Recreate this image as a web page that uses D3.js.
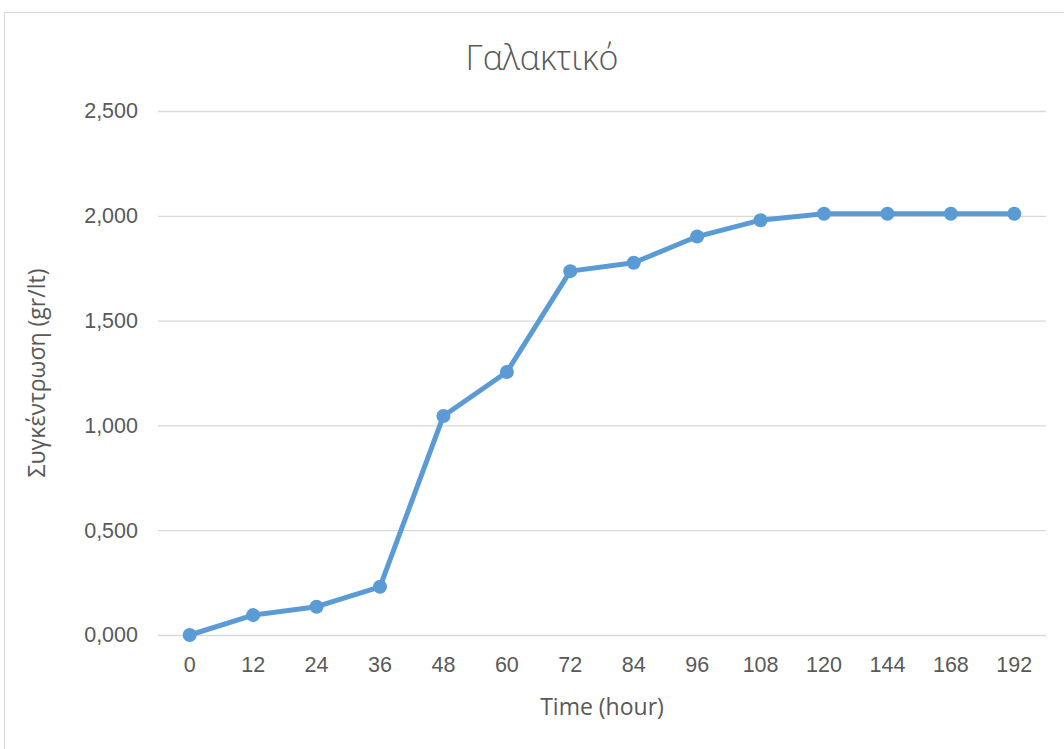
<!DOCTYPE html>
<html>
<head>
<meta charset="utf-8">
<script src="https://cdn.jsdelivr.net/npm/d3@7"></script>
<style>
  html, body { margin: 0; padding: 0; background: #fff; }
  svg { display: block; font-family: "Open Sans", "Noto Sans", "Liberation Sans", sans-serif; }
</style>
</head>
<body>
<svg id="chart" width="1064" height="749"></svg>
<script>
// Lactic acid concentration over time
const hours = ["0", "12", "24", "36", "48", "60", "72", "84", "96", "108", "120", "144", "168", "192"];
const concentration = [0, 0.095, 0.135, 0.23, 1.045, 1.255, 1.736, 1.776, 1.901, 1.979, 2.01, 2.01, 2.01, 2.01];
const yTicks = [0, 0.5, 1.0, 1.5, 2.0, 2.5];

const titleText = "Γαλακτικό";
const yTitle = "Συγκέντρωση (gr/lt)";
const xTitle = "Time (hour)";

const svg = d3.select("#chart");
const textColor = "#595959";
const gridColor = "#d9d9d9";
const lineColor = "#5b9bd5";

const margin = { left: 158, right: 1046, top: 111, bottom: 635 };

// Outer chart frame
svg.append("rect")
  .attr("x", 4.5).attr("y", 12.5)
  .attr("width", 1080).attr("height", 760)
  .attr("fill", "#fff").attr("stroke", gridColor).attr("stroke-width", 1);

const x = d3.scaleBand().domain(hours).range([margin.left, margin.right]);
const y = d3.scaleLinear().domain([0, 2.5]).range([margin.bottom, margin.top]);

const fmt = v => d3.format(".3f")(v).replace(".", ",");

// Horizontal gridlines with value labels
const yAxis = d3.axisLeft(y).tickValues(yTicks).tickFormat(fmt)
  .tickSize(-(margin.right - margin.left)).tickPadding(20);
const gy = svg.append("g").attr("transform", `translate(${margin.left},0)`).call(yAxis);
gy.select(".domain").remove();
gy.selectAll(".tick line").attr("stroke", gridColor).attr("stroke-width", 1.3);
gy.selectAll(".tick text").attr("fill", textColor).attr("font-size", 21.5);

// Category axis labels
const xAxis = d3.axisBottom(x).tickSize(0).tickPadding(22);
const gx = svg.append("g").attr("transform", `translate(0,${margin.bottom})`).call(xAxis);
gx.select(".domain").remove();
gx.selectAll(".tick text").attr("fill", textColor).attr("font-size", 21.5);

// Series line and markers
const pts = hours.map((h, i) => ({ h, v: concentration[i] }));
const cx = d => x(d.h) + x.bandwidth() / 2;

svg.append("path")
  .datum(pts)
  .attr("fill", "none")
  .attr("stroke", lineColor)
  .attr("stroke-width", 5)
  .attr("stroke-linejoin", "round")
  .attr("d", d3.line().x(cx).y(d => y(d.v)));

svg.selectAll("circle.pt")
  .data(pts).enter().append("circle")
  .attr("class", "pt")
  .attr("cx", cx).attr("cy", d => y(d.v))
  .attr("r", 7).attr("fill", lineColor);

// Titles
svg.append("text")
  .attr("x", 542).attr("y", 70)
  .attr("text-anchor", "middle")
  .attr("fill", textColor).attr("font-size", 34).attr("font-weight", 300)
  .text(titleText);

svg.append("text")
  .attr("transform", `translate(45,${(margin.top + margin.bottom) / 2}) rotate(-90)`)
  .attr("text-anchor", "middle")
  .attr("fill", textColor).attr("font-size", 23)
  .text(yTitle);

svg.append("text")
  .attr("x", 602).attr("y", 715)
  .attr("text-anchor", "middle")
  .attr("fill", textColor).attr("font-size", 23)
  .text(xTitle);
</script>
</body>
</html>
